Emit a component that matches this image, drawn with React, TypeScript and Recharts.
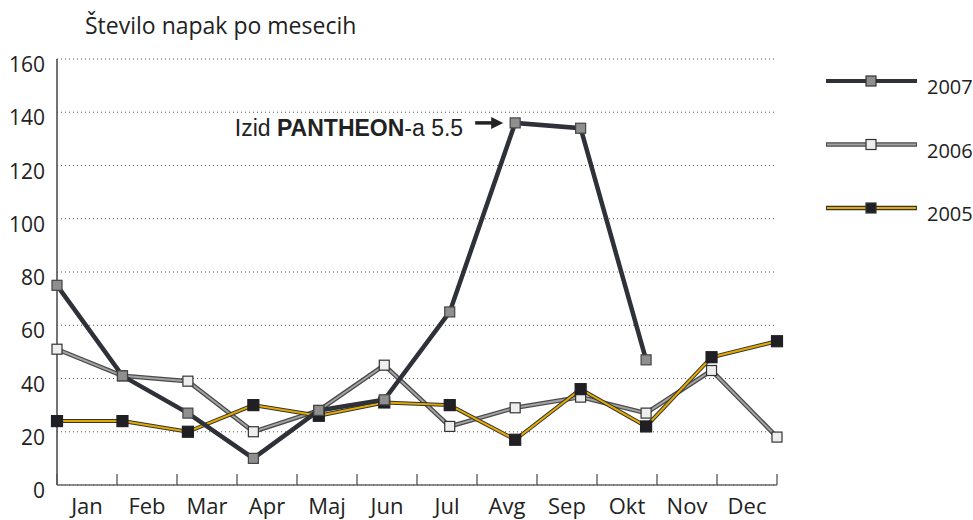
import React from 'react';
import {
  LineChart,
  Line,
  XAxis,
  YAxis,
  CartesianGrid,
  ReferenceDot,
} from 'recharts';

const months = ['Jan', 'Feb', 'Mar', 'Apr', 'Maj', 'Jun', 'Jul', 'Avg', 'Sep', 'Okt', 'Nov', 'Dec'];
const y2007 = [75, 41, 27, 10, 28, 32, 65, 136, 134, 47, null, null];
const y2006 = [51, 41, 39, 20, 28, 45, 22, 29, 33, 27, 43, 18];
const y2005 = [24, 24, 20, 30, 26, 31, 30, 17, 36, 22, 48, 54];
const yTicks = [0, 20, 40, 60, 80, 100, 120, 140, 160];
const monthTicks = [0, 0.5, 1, 1.5, 2, 2.5, 3, 3.5, 4, 4.5, 5, 5.5, 6, 6.5, 7, 7.5, 8, 8.5, 9, 9.5, 10, 10.5, 11, 11.5, 12];

const data = months.map((m, i) => ({ i, month: m, y2007: y2007[i], y2006: y2006[i], y2005: y2005[i] }));

const FONT = '"Open Sans", "Noto Sans", sans-serif';

const legendItems = [
  { name: '2007', line: '#2e3138', inner: null, fill: '#8f8f8f' },
  { name: '2006', line: '#4a4a4a', inner: '#a3a3a3', fill: '#eeeeee' },
  { name: '2005', line: '#333333', inner: '#e2aa00', fill: '#1f1f24' },
];

const square = (fill: string, size: number, stroke: string) => (props: any) => {
  const { cx, cy, index } = props;
  if (cx == null || cy == null || props.value == null) return <g key={index} />;
  return (
    <rect
      key={index}
      x={cx - size / 2}
      y={cy - size / 2}
      width={size}
      height={size}
      fill={fill}
      stroke={stroke}
      strokeWidth={1.2}
    />
  );
};

const MonthTick = (props: any) => {
  const { x, y, payload } = props;
  const v = payload.value;
  if (Number.isInteger(v)) {
    return <line x1={x} x2={x} y1={y} y2={y - 11} stroke="#555" strokeWidth={1.3} />;
  }
  return (
    <text x={x} y={y + 29} textAnchor="middle" fontSize={22} fill="#222" fontFamily={FONT}>
      {months[Math.floor(v)]}
    </text>
  );
};

const ValueTick = (props: any) => {
  const { x, y, payload } = props;
  return (
    <text x={x - 12} y={y + 13} textAnchor="end" fontSize={21} fill="#222" fontFamily={FONT}>
      {payload.value}
    </text>
  );
};

// legend drawn beside the plot, not through recharts Legend (it would shrink the plot)
const SideLegend = () => (
  <svg width={147} height={160} style={{ position: 'absolute', left: 826, top: 70 }}>
    {legendItems.map((it, k) => {
      const cy = 11 + k * 63.5;
      return (
        <g key={it.name}>
          <line x1={0} x2={91} y1={cy} y2={cy} stroke={it.line} strokeWidth={it.inner ? 4.5 : 4} />
          {it.inner && <line x1={1} x2={90} y1={cy} y2={cy} stroke={it.inner} strokeWidth={2} />}
          <rect x={40} y={cy - 5} width={10} height={10} fill={it.fill} stroke="#333" strokeWidth={1.2} />
          <text x={101} y={cy + 13} fontSize={20} fill="#222" fontFamily={FONT}>
            {it.name}
          </text>
        </g>
      );
    })}
  </svg>
);

const Annotation = (props: any) => {
  const { cx, cy } = props;
  return (
    <g>
      <text
        x={cx - 52}
        y={cy + 13}
        textAnchor="end"
        fontSize={23}
        fill="#222"
        fontFamily='"Liberation Sans", Arial, sans-serif'
      >
        Izid <tspan fontWeight="bold">PANTHEON</tspan>-a 5.5
      </text>
      <line x1={cx - 40} x2={cx - 22} y1={cy} y2={cy} stroke="#222" strokeWidth={3.5} />
      <polygon points={`${cx - 12},${cy} ${cx - 24},${cy - 6} ${cx - 24},${cy + 6}`} fill="#222" />
    </g>
  );
};

export default function App() {
  return (
    <div style={{ position: 'relative', width: 973, height: 520, background: '#fff' }}>
      <style>{'body{margin:0}'}</style>
      <div
        style={{
          position: 'absolute',
          left: 85,
          top: 10,
          fontFamily: FONT,
          fontSize: 23,
          color: '#222',
          lineHeight: '30px',
          whiteSpace: 'nowrap',
        }}
      >
        Število napak po mesecih
      </div>
      <LineChart width={973} height={520} data={data} margin={{ top: 59, right: 196, bottom: 0, left: 0 }}>
        <CartesianGrid horizontal vertical={false} stroke="#555" strokeDasharray="1 3" />
        <XAxis xAxisId="pts" dataKey="i" type="number" domain={[0, 11]} hide />
        <XAxis
          xAxisId="lbl"
          dataKey="i"
          type="number"
          domain={[0, 12]}
          allowDataOverflow
          ticks={monthTicks}
          interval={0}
          tick={<MonthTick />}
          tickLine={false}
          tickSize={0}
          tickMargin={0}
          height={35}
          axisLine={{ stroke: '#666', strokeWidth: 1.5 }}
        />
        <YAxis
          domain={[0, 160]}
          ticks={yTicks}
          interval={0}
          width={57}
          tick={<ValueTick />}
          tickLine={false}
          tickSize={0}
          tickMargin={0}
          axisLine={{ stroke: '#444', strokeWidth: 1.5 }}
        />
        <Line xAxisId="pts" dataKey="y2006" stroke="#4a4a4a" strokeWidth={4.5} dot={false} activeDot={false} isAnimationActive={false} legendType="none" />
        <Line xAxisId="pts" dataKey="y2006" stroke="#a3a3a3" strokeWidth={2} dot={square('#eeeeee', 10, '#333')} activeDot={false} isAnimationActive={false} legendType="none" />
        <Line xAxisId="pts" dataKey="y2005" stroke="#333333" strokeWidth={4} dot={false} activeDot={false} isAnimationActive={false} legendType="none" />
        <Line xAxisId="pts" dataKey="y2005" stroke="#e2aa00" strokeWidth={2} dot={square('#1f1f24', 11, '#1f1f24')} activeDot={false} isAnimationActive={false} legendType="none" />
        <Line xAxisId="pts" dataKey="y2007" stroke="#2e3138" strokeWidth={4.5} dot={square('#8f8f8f', 10, '#444')} activeDot={false} isAnimationActive={false} legendType="none" />
        <ReferenceDot xAxisId="pts" x={7} y={136} r={0} shape={<Annotation />} />
      </LineChart>
      <SideLegend />
    </div>
  );
}
